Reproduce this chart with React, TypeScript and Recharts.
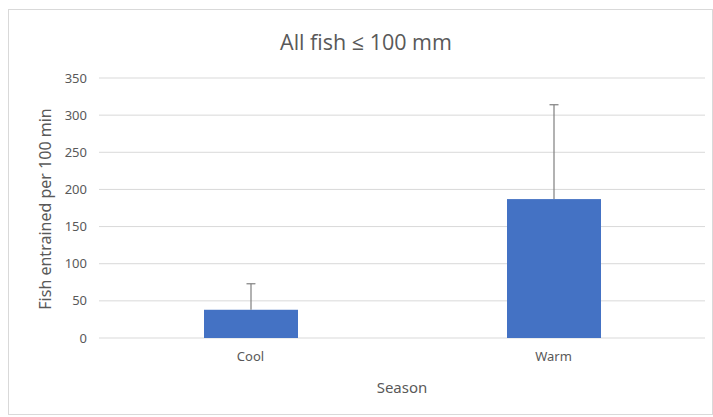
import React from 'react';
import { BarChart, Bar, XAxis, YAxis, CartesianGrid } from 'recharts';

const seasons = ['Cool', 'Warm'];
const meanValues = [38, 187];
const errorPlus = [35, 127];
const yTicks = [0, 50, 100, 150, 200, 250, 300, 350];

const data = seasons.map((s, i) => ({ season: s, value: meanValues[i], err: errorPlus[i] }));

const TEXT = '#595959';
const FONT = '"Noto Sans", "Open Sans", sans-serif';

const BarWithError = (props: any) => {
  const { x, y, width, height, payload, fill } = props;
  const pxPerUnit = height / payload.value;
  const errTop = y - payload.err * pxPerUnit;
  const cx = x + width / 2;
  return (
    <g>
      <rect x={x} y={y} width={width} height={height} fill={fill} />
      <line x1={cx} y1={y} x2={cx} y2={errTop} stroke="#7f7f7f" strokeWidth={1.2} />
      <line x1={cx - 4.5} y1={errTop} x2={cx + 4.5} y2={errTop} stroke="#7f7f7f" strokeWidth={1.2} />
    </g>
  );
};

export default function App() {
  return (
    <div style={{ position: 'absolute', left: 0, top: 0, width: 713, height: 417, background: '#fff', fontFamily: FONT }}>
      <div style={{ position: 'absolute', left: 8, top: 9, width: 705, height: 406, border: '1px solid #d9d9d9', boxSizing: 'border-box' }} />
      <BarChart width={713} height={417} data={data} margin={{ top: 78, right: 8, bottom: 49, left: 39 }}>
        <CartesianGrid vertical={false} stroke="#d9d9d9" />
        <XAxis
          dataKey="season"
          height={30}
          axisLine={false}
          tickLine={false}
          tickSize={0}
          tickMargin={14}
          tick={{ fill: TEXT, fontSize: 13, fontFamily: FONT }}
        />
        <YAxis
          width={60}
          domain={[0, 350]}
          ticks={yTicks}
          axisLine={false}
          tickLine={false}
          tickSize={0}
          tickMargin={12}
          tick={{ fill: TEXT, fontSize: 13, fontFamily: FONT }}
        />
        <Bar dataKey="value" fill="#4472C4" barSize={94} isAnimationActive={false} shape={BarWithError} />
      </BarChart>
      <div style={{ position: 'absolute', left: 166, width: 400, top: 28, textAlign: 'center', fontSize: 21.5, color: TEXT, fontFamily: '"Open Sans", sans-serif', lineHeight: '28px' }}>
        All fish ≤ 100 mm
      </div>
      <div style={{ position: 'absolute', left: 302, width: 200, top: 376, textAlign: 'center', fontSize: 15, color: TEXT, lineHeight: '22px' }}>
        Season
      </div>
      <div style={{ position: 'absolute', left: 45 - 130, width: 260, top: 209 - 11, textAlign: 'center', fontSize: 16, color: TEXT, lineHeight: '22px', transform: 'rotate(-90deg)', transformOrigin: '130px 11px' }}>
        Fish entrained per 100 min
      </div>
    </div>
  );
}
